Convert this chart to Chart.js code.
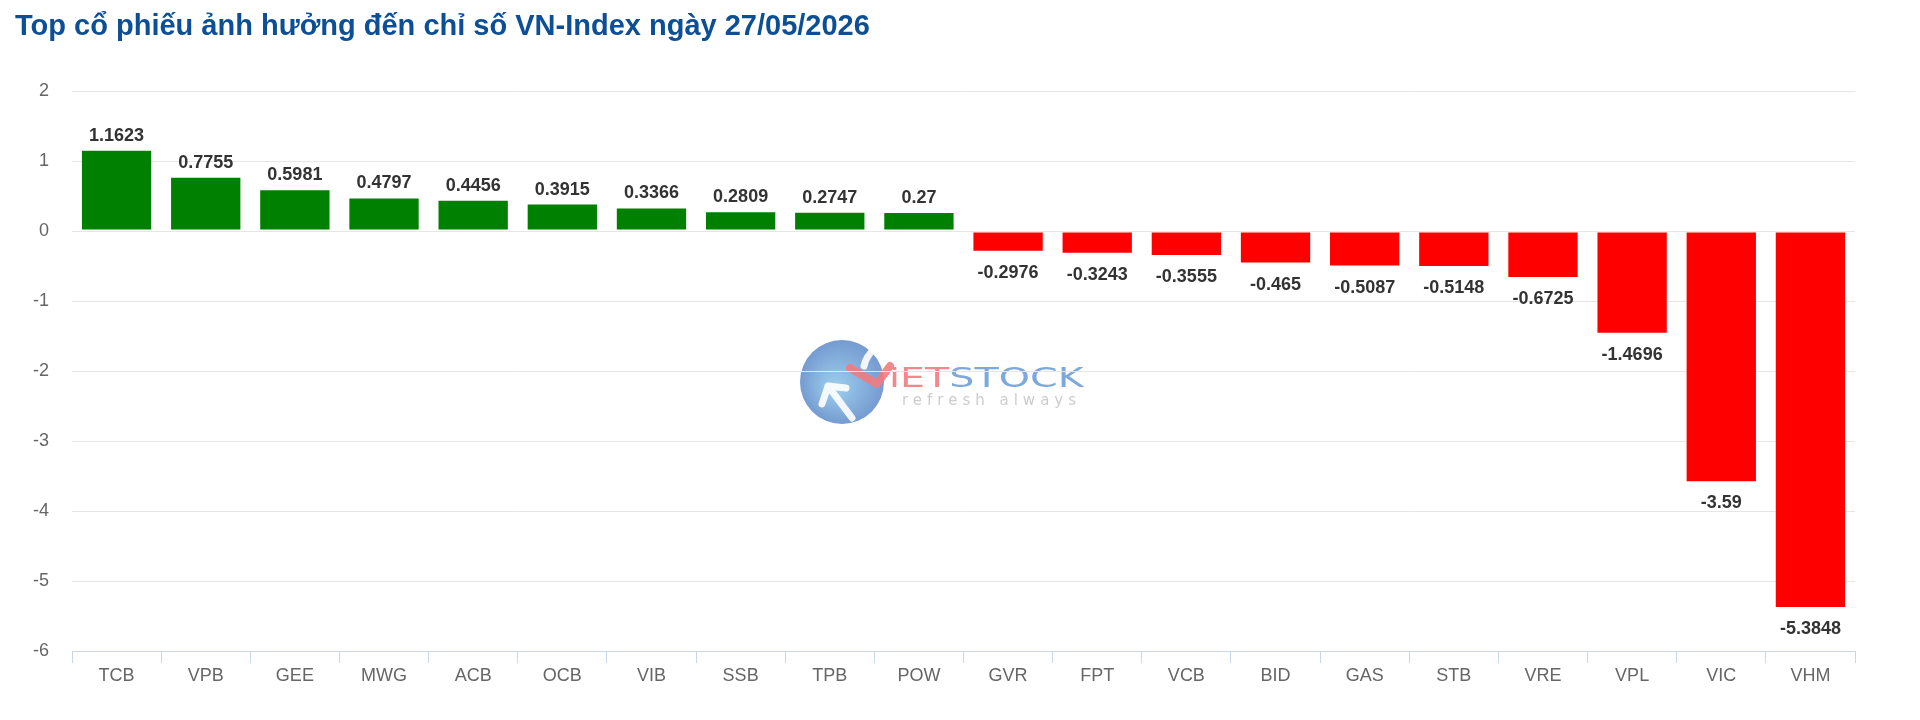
<!DOCTYPE html>
<html lang="vi">
<head>
    <meta charset="UTF-8">
    <title>Top cổ phiếu ảnh hưởng đến chỉ số VN-Index</title>
    <script src="https://cdn.jsdelivr.net/npm/chart.js"></script>
    <style>
        html, body { margin: 0; padding: 0; background: #fff; }
        #wrap { position: relative; width: 1920px; height: 720px; overflow: hidden; }
        #tieuDe {
            position: absolute; left: 15px; top: 11px; margin: 0;
            font: bold 29px "Liberation Sans", Arial, sans-serif; line-height: 29px;
            color: #0d4f97; white-space: nowrap;
        }
        #grafico { position: absolute; left: 0; top: 0; }
    </style>
</head>
<body>
<div id="wrap">
    <canvas id="grafico" width="1920" height="720"></canvas>
    <h2 id="tieuDe">Top cổ phiếu ảnh hưởng đến chỉ số VN-Index ngày 27/05/2026</h2>
</div>

<script>
    // Dati
    const maCK = ['TCB', 'VPB', 'GEE', 'MWG', 'ACB', 'OCB', 'VIB', 'SSB', 'TPB', 'POW',
                  'GVR', 'FPT', 'VCB', 'BID', 'GAS', 'STB', 'VRE', 'VPL', 'VIC', 'VHM'];
    const anhHuong = [1.1623, 0.7755, 0.5981, 0.4797, 0.4456, 0.3915, 0.3366, 0.2809, 0.2747, 0.27,
                      -0.2976, -0.3243, -0.3555, -0.465, -0.5087, -0.5148, -0.6725, -1.4696, -3.59, -5.3848];
    const yMin = -6, yMax = 2, yPasso = 1;

    const fontAssi = "'Liberation Sans', Arial, sans-serif";

    // Etichette con il valore sopra / sotto ogni barra
    const etichette = {
        id: 'etichette',
        afterDatasetsDraw(chart) {
            const ctx = chart.ctx;
            const meta = chart.getDatasetMeta(0);
            ctx.save();
            ctx.font = "bold 18px 'Liberation Sans', Arial, sans-serif";
            ctx.fillStyle = '#333333';
            ctx.textAlign = 'center';
            meta.data.forEach((bar, i) => {
                const v = anhHuong[i];
                if (v >= 0) {
                    ctx.textBaseline = 'bottom';
                    ctx.fillText(String(v), bar.x, bar.y - 5);
                } else {
                    ctx.textBaseline = 'top';
                    ctx.fillText(String(v), bar.x, bar.y + 12);
                }
            });
            ctx.restore();
        }
    };

    // Logo in filigrana al centro
    const filigrana = {
        id: 'filigrana',
        beforeDraw(chart) {
            const ctx = chart.ctx;
            const cx = 842, cy = 382, r = 42;
            ctx.save();
            ctx.globalAlpha = 0.9;
            const g = ctx.createRadialGradient(cx - 8, cy + 6, 4, cx, cy, r);
            g.addColorStop(0, '#8fc6ea');
            g.addColorStop(1, '#6690cc');
            ctx.fillStyle = g;
            ctx.beginPath();
            ctx.arc(cx, cy, r, 0, Math.PI * 2);
            ctx.fill();

            // freccia bianca
            ctx.strokeStyle = '#ffffff';
            ctx.lineWidth = 7;
            ctx.lineCap = 'round';
            ctx.lineJoin = 'round';
            ctx.beginPath();
            ctx.moveTo(852, 418);
            ctx.lineTo(828, 386);
            ctx.moveTo(822, 404);
            ctx.lineTo(828, 386);
            ctx.lineTo(846, 388);
            ctx.stroke();
            ctx.beginPath();
            ctx.moveTo(876, 347);
            ctx.quadraticCurveTo(866, 356, 864, 366);
            ctx.stroke();

            // V rossa
            ctx.strokeStyle = '#f27b7f';
            ctx.lineWidth = 8;
            ctx.beginPath();
            ctx.moveTo(850, 368);
            ctx.lineTo(877, 384);
            ctx.lineTo(890, 366);
            ctx.stroke();

            ctx.textBaseline = 'alphabetic';
            ctx.font = "27px 'DejaVu Sans', sans-serif";
            ctx.save();
            ctx.translate(889, 387);
            ctx.scale(1.47, 1);
            ctx.fillStyle = '#f27b7f';
            ctx.fillText('iET', 0, 0);
            const w = ctx.measureText('iET').width;
            ctx.fillStyle = '#6f9fd6';
            ctx.fillText('STOCK', w, 0);
            ctx.restore();

            ctx.fillStyle = '#c8c8c8';
            ctx.font = "15px 'DejaVu Sans', sans-serif";
            ctx.letterSpacing = '5px';
            ctx.fillText('refresh always', 902, 405);
            ctx.restore();
        }
    };

    const ctx = document.getElementById('grafico').getContext('2d');
    new Chart(ctx, {
        type: 'bar',
        data: {
            labels: maCK,
            datasets: [{
                data: anhHuong,
                backgroundColor: anhHuong.map(v => v >= 0 ? '#008000' : '#ff0000'),
                borderColor: 'rgba(255,255,255,0.45)',
                borderWidth: 1,
                borderSkipped: false,
                barPercentage: 0.8,
                categoryPercentage: 1
            }]
        },
        options: {
            responsive: false,
            devicePixelRatio: 1,
            animation: false,
            layout: { padding: { top: 91, right: 65, left: 0, bottom: 0 } },
            plugins: {
                legend: { display: false },
                tooltip: { enabled: false },
                title: { display: false }
            },
            scales: {
                x: {
                    grid: {
                        offset: true,
                        drawOnChartArea: false,
                        color: '#ccd6eb',
                        tickLength: 12
                    },
                    border: { color: '#ccd6eb' },
                    ticks: {
                        color: '#666666',
                        font: { family: fontAssi, size: 18 },
                        padding: 2,
                        maxRotation: 0
                    },
                    afterFit(s) { s.height = 69; }
                },
                y: {
                    min: yMin,
                    max: yMax,
                    ticks: {
                        stepSize: yPasso,
                        color: '#666666',
                        font: { family: fontAssi, size: 18 },
                        padding: 23
                    },
                    grid: {
                        drawTicks: false,
                        color: c => c.tick && c.tick.value === yMin ? 'rgba(0,0,0,0)' : '#e6e6e6'
                    },
                    border: { display: false },
                    afterFit(s) { s.width = 72; }
                }
            }
        },
        plugins: [filigrana, etichette]
    });
</script>
</body>
</html>
